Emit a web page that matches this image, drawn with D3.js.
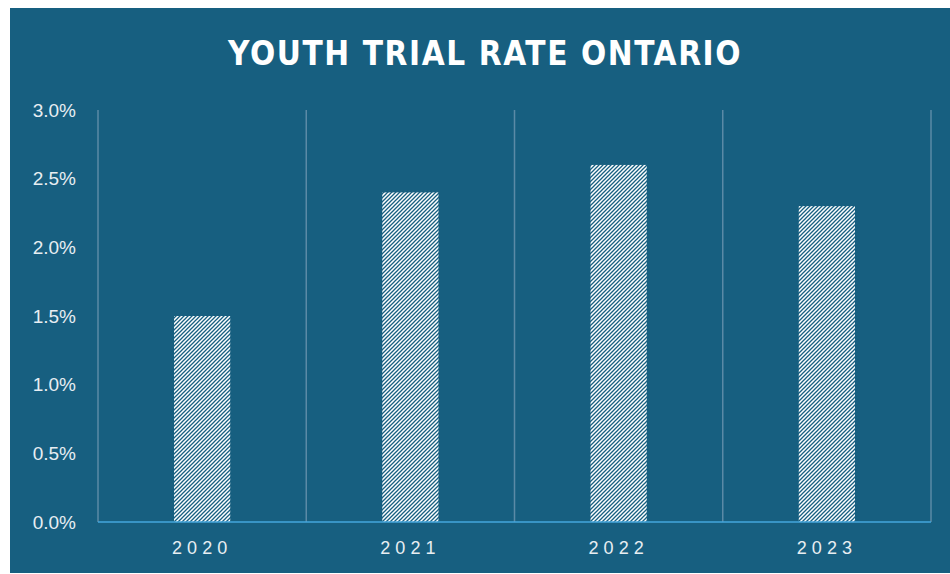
<!DOCTYPE html>
<html>
<head>
<meta charset="utf-8">
<script src="https://cdn.jsdelivr.net/npm/d3@7"></script>
<style>
  body { margin: 0; background: #ffffff; }
  svg { display: block; }
</style>
</head>
<body>
<div id="chart"></div>
<script>
// data
var years = ["2020", "2021", "2022", "2023"];
var trialRate = [0.015, 0.024, 0.026, 0.023];
var yTicks = [0, 0.005, 0.01, 0.015, 0.02, 0.025, 0.03];

var W = 950, H = 574;
var bg = "#175f80";

var margin = { top: 110, right: 19, bottom: 52, left: 98 },
    width = W - margin.left - margin.right,
    height = H - margin.top - margin.bottom;

var root = d3.select("#chart")
    .append("svg")
    .attr("width", W)
    .attr("height", H);

// hatch pattern for bars (upward diagonal stripes)
var defs = root.append("defs");
var pat = defs.append("pattern")
    .attr("id", "hatch")
    .attr("patternUnits", "userSpaceOnUse")
    .attr("width", 4)
    .attr("height", 4);
pat.append("rect").attr("width", 4).attr("height", 4).attr("fill", "#ffffff");
pat.append("path")
    .attr("d", "M-1,1 l2,-2 M0,4 l4,-4 M3,5 l2,-2")
    .attr("stroke", bg)
    .attr("stroke-width", 1.3);

// panel background
root.append("rect")
    .attr("x", 10).attr("y", 8)
    .attr("width", W - 10).attr("height", H - 9)
    .attr("fill", bg);

root.append("text")
    .attr("x", 485)
    .attr("y", 65)
    .attr("text-anchor", "middle")
    .attr("fill", "#ffffff")
    .style("font-family", "'DejaVu Sans Condensed', 'DejaVu Sans', sans-serif")
    .style("font-stretch", "condensed")
    .style("font-weight", "bold")
    .style("font-size", "33px")
    .style("letter-spacing", "1.5px")
    .attr("textLength", 514)
    .attr("lengthAdjust", "spacing")
    .text("YOUTH TRIAL RATE ONTARIO");

var svg = root.append("g")
    .attr("transform", "translate(" + margin.left + "," + margin.top + ")");

var x = d3.scaleBand()
    .domain(years)
    .range([0, width])
    .paddingInner(0)
    .paddingOuter(0);

var y = d3.scaleLinear()
    .domain([0, 0.03])
    .range([height, 0]);

// vertical separators between categories
var seps = d3.range(years.length + 1).map(function (i) {
    return i < years.length ? x(years[i]) : width;
});
svg.append("g")
    .selectAll("line")
    .data(seps)
    .enter().append("line")
    .attr("x1", function (d) { return d; })
    .attr("x2", function (d) { return d; })
    .attr("y1", 0)
    .attr("y2", height)
    .attr("stroke", "#5b8aa6")
    .attr("stroke-width", 1.5);

// bars
var barW = x.bandwidth() * 0.27;
svg.append("g")
    .selectAll("rect")
    .data(years)
    .enter().append("rect")
    .attr("x", function (d) { return x(d) + x.bandwidth() / 2 - barW / 2; })
    .attr("y", function (d, i) { return y(trialRate[i]); })
    .attr("width", barW)
    .attr("height", function (d, i) { return height - y(trialRate[i]); })
    .attr("fill", "url(#hatch)");

// baseline
svg.append("line")
    .attr("x1", 0).attr("x2", width)
    .attr("y1", height).attr("y2", height)
    .attr("stroke", "#45a6dc")
    .attr("stroke-width", 1.5);

// y axis
var yAxis = svg.append("g")
    .call(d3.axisLeft(y).tickValues(yTicks).tickFormat(d3.format(".1%")).tickSize(0).tickPadding(22));
yAxis.select(".domain").remove();
yAxis.selectAll("text")
    .attr("fill", "#e8eef2")
    .style("font-family", "'Liberation Sans', Arial, sans-serif")
    .style("font-size", "19px");

// x axis
var xAxis = svg.append("g")
    .attr("transform", "translate(0," + height + ")")
    .call(d3.axisBottom(x).tickSize(0).tickPadding(19));
xAxis.select(".domain").remove();
xAxis.selectAll("text")
    .attr("fill", "#e8eef2")
    .style("font-family", "'Liberation Sans', Arial, sans-serif")
    .style("font-size", "18px")
    .style("letter-spacing", "5px");
</script>
</body>
</html>
